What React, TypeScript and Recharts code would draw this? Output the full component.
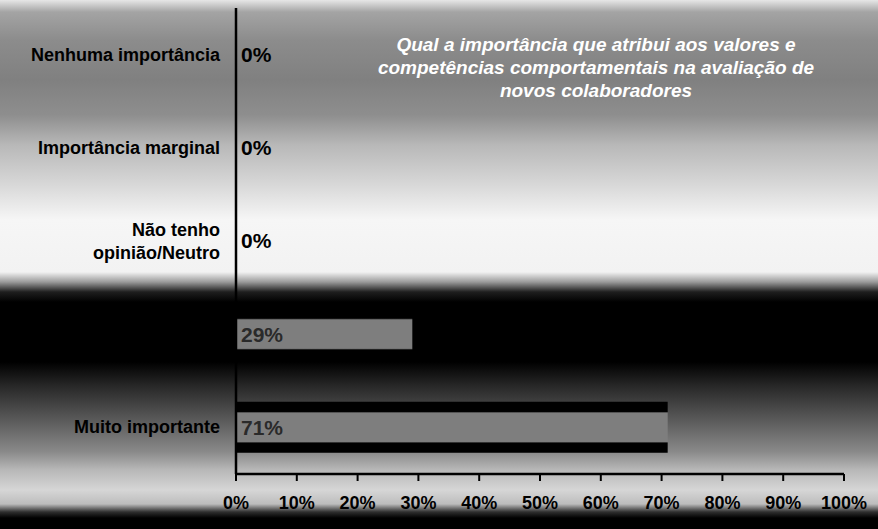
import { Bar, BarChart, LabelList, XAxis, YAxis } from "recharts";

const categories = [
  "Nenhuma importância",
  "Importância marginal",
  "Não tenho opinião/Neutro",
  "Importante",
  "Muito importante",
];
const shares = [0, 0, 0, 29, 71];
const xTicks = [0, 10, 20, 30, 40, 50, 60, 70, 80, 90, 100];
const titleLines = [
  "Qual a importância que atribui aos valores e",
  "competências comportamentais na avaliação de",
  "novos colaboradores",
];

const FONT = '"Liberation Sans", Arial, sans-serif';

const data = categories.map((name, i) => ({ name, share: shares[i] }));

// banded slide background: grey top, white middle, black strip, grey, black foot
const BACKGROUND = `linear-gradient(to bottom,
  #e6e6e6 0px, #a4a4a4 12px, #8c8c8c 40px, #808080 80px, #8e8e8e 115px,
  #b8b8b8 145px, #d8d8d8 185px, #f6f6f6 220px, #f2f2f2 272px, #9a9a9a 282px,
  #1e1e1e 292px, #000 302px, #000 362px, #262626 385px, #5a5a5a 420px,
  #8a8a8a 452px, #b8b8b8 470px, #d6d6d6 490px, #bdbdbd 504px, #2e2e2e 512px,
  #000 518px, #000 529px)`;

// greedy word wrap for long category names
function wrapLabel(label: string, maxChars = 20): string[] {
  const lines: string[] = [];
  let cur = "";
  for (const word of label.split(" ")) {
    const next = cur ? `${cur} ${word}` : word;
    if (cur && next.length > maxChars) {
      lines.push(cur);
      cur = word;
    } else {
      cur = next;
    }
  }
  if (cur) lines.push(cur);
  return lines;
}

function CategoryTick(props: any) {
  const { x, y, payload } = props;
  const lines = wrapLabel(String(payload.value));
  const lineH = 23;
  const firstDy = -((lines.length - 1) * lineH) / 2;
  return (
    <text
      x={x}
      y={y}
      textAnchor="end"
      dominantBaseline="central"
      fill="#000"
      fontSize={18}
      fontWeight={700}
      fontFamily={FONT}
    >
      {lines.map((line, i) => (
        <tspan key={line} x={x} dy={i === 0 ? firstDy : lineH}>
          {line}
        </tspan>
      ))}
    </text>
  );
}

function ShareLabel(props: any) {
  const { x, y, height, value } = props;
  return (
    <text
      x={Number(x) + 5}
      y={Number(y) + Number(height) / 2}
      dominantBaseline="central"
      fill={value > 0 ? "#2a2a2a" : "#000"}
      fontSize={21}
      fontWeight={700}
      fontFamily={FONT}
    >
      {`${value}%`}
    </text>
  );
}

export default function App() {
  return (
    <div
      style={{
        position: "absolute",
        left: 0,
        top: 0,
        width: 878,
        height: 529,
        background: BACKGROUND,
        overflow: "hidden",
      }}
    >
      <BarChart
        width={878}
        height={529}
        layout="vertical"
        data={data}
        margin={{ top: 8, right: 34, left: 0, bottom: 0 }}
        barSize={51}
      >
        <defs>
          <linearGradient id="barFill" x1="0" y1="0" x2="0" y2="1">
            <stop offset="0%" stopColor="#000" />
            <stop offset="19%" stopColor="#000" />
            <stop offset="22%" stopColor="#7e7e7e" />
            <stop offset="78%" stopColor="#7e7e7e" />
            <stop offset="81%" stopColor="#000" />
            <stop offset="100%" stopColor="#000" />
          </linearGradient>
        </defs>
        <XAxis
          type="number"
          domain={[0, 100]}
          ticks={xTicks}
          tickFormatter={(v: number) => `${v}%`}
          height={55}
          axisLine={{ stroke: "#000", strokeWidth: 2.5 }}
          tickLine={{ stroke: "#000", strokeWidth: 2 }}
          tickSize={7}
          tickMargin={15}
          tick={{ fill: "#000", fontSize: 18, fontWeight: 700, fontFamily: FONT }}
          interval={0}
        />
        <YAxis
          type="category"
          dataKey="name"
          width={236}
          axisLine={{ stroke: "#000", strokeWidth: 2.5 }}
          tickLine={false}
          tickSize={6}
          tickMargin={10}
          tick={<CategoryTick />}
          interval={0}
        />
        <Bar
          dataKey="share"
          fill="url(#barFill)"
          minPointSize={1}
          isAnimationActive={false}
        >
          <LabelList dataKey="share" content={<ShareLabel />} />
        </Bar>
      </BarChart>
      <div
        style={{
          position: "absolute",
          left: 296,
          top: 33,
          width: 600,
          textAlign: "center",
          color: "#fff",
          fontFamily: FONT,
          fontSize: 19,
          fontWeight: 700,
          fontStyle: "italic",
          lineHeight: "23px",
        }}
      >
        {titleLines.map((line) => (
          <div key={line}>{line}</div>
        ))}
      </div>
    </div>
  );
}
